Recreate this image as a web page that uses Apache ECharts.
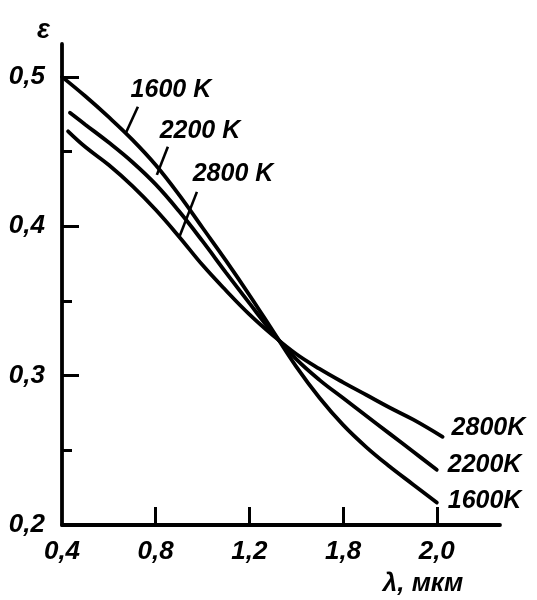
<!DOCTYPE html>
<html>
<head>
<meta charset="utf-8">
<script src="https://cdn.jsdelivr.net/npm/echarts@6/dist/echarts.min.js"></script>
<style>html,body{margin:0;padding:0;background:#fff}#c{width:537px;height:600px}</style>
</head>
<body>
<div id="c"></div>
<script>
// ---- data ----
const lambda1600 = [0.4,0.5,0.6,0.7,0.8,0.9,1.0,1.1,1.2,1.3,1.4,1.5,1.6,1.7,1.8,1.9,2.0];
const eps1600    = [0.500,0.487,0.473,0.458,0.441,0.421,0.399,0.377,0.354,0.330,0.306,0.285,0.267,0.252,0.239,0.227,0.215];
const lambda2200 = [0.434,0.5,0.6,0.7,0.8,0.9,1.0,1.1,1.2,1.3,1.4,1.5,1.6,1.7,1.8,1.9,2.0];
const eps2200    = [0.476,0.468,0.456,0.443,0.428,0.410,0.390,0.369,0.3485,0.3285,0.311,0.297,0.285,0.273,0.261,0.249,0.237];
const lambda2800 = [0.426,0.5,0.6,0.7,0.8,0.9,1.0,1.1,1.2,1.3,1.4,1.5,1.6,1.7,1.8,1.9,2.025];
const eps2800    = [0.4635,0.453,0.441,0.427,0.411,0.393,0.374,0.357,0.341,0.327,0.3145,0.3045,0.2955,0.287,0.2785,0.2705,0.259];

const curveNames = ['1600 K','2200 K','2800 K'];
const endNames   = ['1600K','2200K','2800K'];

const xTickValues = [0.4,0.8,1.2,1.6,2.0];
const xTickLabels = ['0,4','0,8','1,2','1,8','2,0'];
const yTickValues = [0.2,0.3,0.4,0.5];
const yTickLabels = ['0,2','0,3','0,4','0,5'];
const yMinorValues = [0.25,0.35,0.45];

// annotation anchors (data coordinates): label centre, leader start, leader end
const labelAt    = [[0.865,0.4914],[0.989,0.4639],[1.130,0.4351]];
const leaderFrom = [[0.724,0.480],[0.852,0.4532],[0.976,0.4230]];
const leaderTo   = [[0.673,0.4626],[0.805,0.4344],[0.903,0.3936]];
// ---------------------------------------

const FONT = "'Liberation Sans','DejaVu Sans Condensed',sans-serif";
const txt = (size) => ({fontFamily: FONT, fontStyle: 'italic', fontWeight: 'bold', fontSize: size, color: '#000'});
const BLACK = '#000';

const lambdas = [lambda1600, lambda2200, lambda2800];
const epss = [eps1600, eps2200, eps2800];
const endOffsets = [[6,-1],[6,-5],[4,-9]];

const series = curveNames.map((name, k) => ({
  type: 'line',
  name: name,
  data: lambdas[k].map((x, i) => [x, epss[k][i]]),
  smooth: 0.4,
  showSymbol: false,
  symbol: 'none',
  lineStyle: {color: BLACK, width: 3.8, cap: 'round'},
  endLabel: Object.assign({show: true, formatter: endNames[k], offset: endOffsets[k], distance: 5}, txt(25)),
  markLine: {
    silent: true, symbol: ['none','none'], animation: false,
    lineStyle: {color: BLACK, width: 2.6, type: 'solid'},
    label: {show: false},
    data: [[{coord: leaderFrom[k]}, {coord: leaderTo[k]}]]
  },
  markPoint: {
    silent: true, animation: false,
    symbol: 'rect', symbolSize: 1, itemStyle: {color: 'rgba(0,0,0,0)'},
    label: Object.assign({show: true, position: 'inside', formatter: name}, txt(25)),
    data: [{coord: labelAt[k]}]
  }
}));

const chart = echarts.init(document.getElementById('c'), null, {renderer: 'canvas'});
chart.setOption({
  animation: false,
  backgroundColor: '#fff',
  grid: {left: 62, right: 37, top: 44, bottom: 75, containLabel: false},
  xAxis: {
    type: 'value', min: 0.4, max: 2.27, interval: 0.4,
    axisLine: {show: true, onZero: false, lineStyle: {color: BLACK, width: 3.8}},
    axisTick: {show: true, inside: true, length: 18, customValues: xTickValues.slice(1), lineStyle: {color: BLACK, width: 3}},
    axisLabel: Object.assign({
      customValues: xTickValues, margin: 14,
      formatter: (v) => { const i = xTickValues.findIndex(t => Math.abs(t - v) < 1e-6); return i >= 0 ? xTickLabels[i] : ''; }
    }, txt(26)),
    splitLine: {show: false},
    name: 'λ, мкм', nameLocation: 'end', nameGap: -77,
    nameTextStyle: Object.assign({align: 'center', verticalAlign: 'top', padding: [46,0,0,0]}, txt(26))
  },
  yAxis: [{
    type: 'value', min: 0.2, max: 0.522, interval: 0.1, position: 'left', offset: 0,
    axisLine: {show: true, onZero: false, lineStyle: {color: BLACK, width: 3.8}},
    axisTick: {show: true, inside: true, length: 17, customValues: yTickValues.slice(1), lineStyle: {color: BLACK, width: 3}},
    axisLabel: Object.assign({
      customValues: yTickValues, margin: 17,
      formatter: (v) => { const i = yTickValues.findIndex(t => Math.abs(t - v) < 1e-6); return i >= 0 ? yTickLabels[i] : ''; }
    }, txt(26)),
    splitLine: {show: false},
    name: 'ε', nameLocation: 'end', nameGap: 13,
    nameTextStyle: Object.assign({align: 'right', verticalAlign: 'middle', padding: [0,12,0,0]}, txt(27))
  }, {
    type: 'value', min: 0.2, max: 0.522, interval: 0.1, position: 'left', offset: 0,
    axisLine: {show: false},
    axisTick: {show: true, inside: true, length: 10, customValues: yMinorValues, lineStyle: {color: BLACK, width: 3}},
    axisLabel: {show: false},
    splitLine: {show: false}
  }],
  series: series
});
</script>
</body>
</html>
